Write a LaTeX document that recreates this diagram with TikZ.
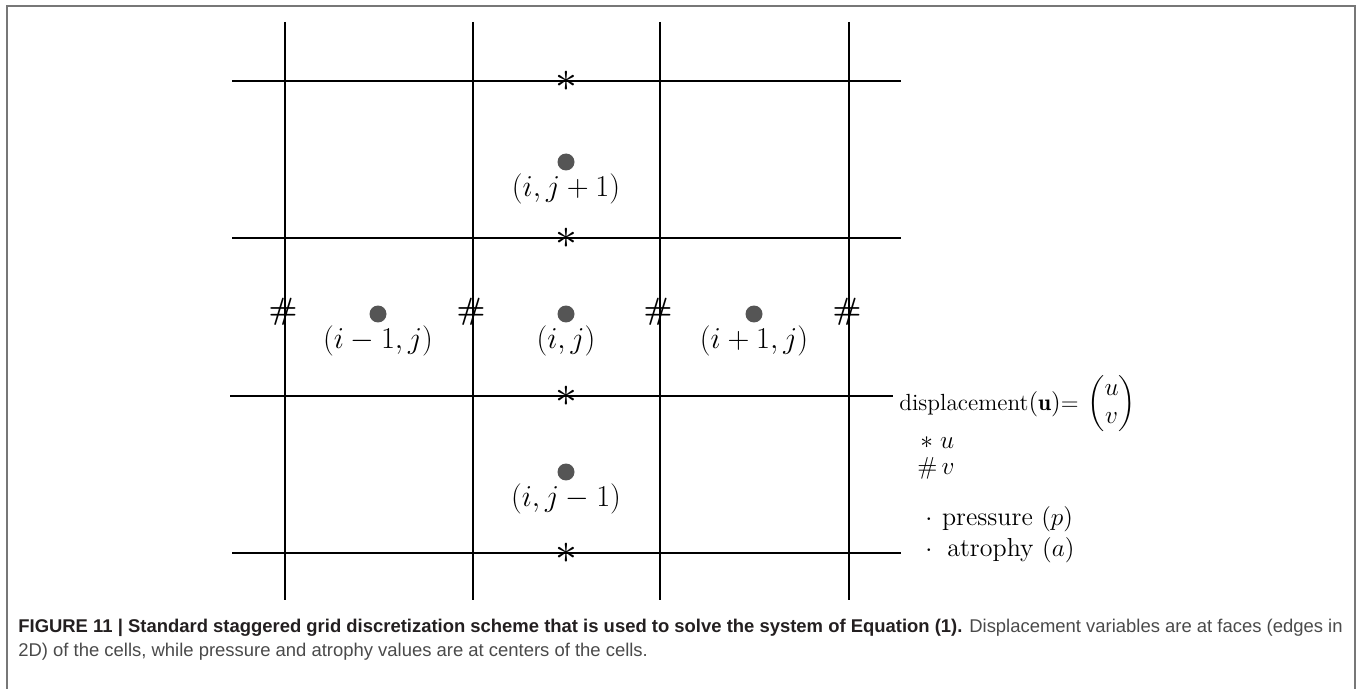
\documentclass[tikz,border=0pt]{standalone}
\usepackage{amsmath,amssymb}
\usepackage{fontspec}
\newfontfamily\capfont{Liberation Sans}
\usepackage{tikz}
\usetikzlibrary{positioning}
\definecolor{frameg}{HTML}{777777}
\definecolor{dotg}{HTML}{555555}
\definecolor{capk}{HTML}{231F20}
\definecolor{capg}{HTML}{4A4A4A}

\begin{document}
\begin{tikzpicture}[
    x=0.02cm, y=-0.02cm,
    gridline/.style={line width=1.1pt},
    cell/.style={circle, fill=dotg, inner sep=0pt, minimum size=0.34cm},
    lbl/.style={inner sep=0pt, font=\fontsize{16}{19}\selectfont},
    umark/.style={inner sep=0pt, font=\fontsize{23}{25}\selectfont},
    vmark/.style={inner sep=0pt, font=\fontsize{17.5}{20}\selectfont\bfseries},
    legend/.style={anchor=west, inner sep=0pt, font=\fontsize{14}{17}\selectfont}
]
    \useasboundingbox (0,0) rectangle (1360,689);

    % --- frame ---
    \draw[frameg, line width=1.1pt] (7,689) -- (7,6) -- (1355,6) -- (1355,689);

    % --- grid ---
    \foreach \x in {285,473,660,849}
      \draw[gridline] (\x,22) -- (\x,600);
    \foreach \y in {81,238,553}
      \draw[gridline] (232,\y) -- (901,\y);
    \draw[gridline] (230,396) -- (893,396);

    % u on horizontal faces, v on vertical faces
    \foreach \y [count=\k] in {81,238,396,553}
      \node[umark] (u\k) at (566,\y) {$\ast$};
    \foreach \x [count=\k] in {283,471,658,847}
      \node[vmark] (v\k) at (\x,312) {\#};

    % --- cell centres ---
    \node[cell] (pN) at (566,162) {};
    \node[cell] (pW) at (378,314) {};
    \node[cell] (pC) at (566,314) {};
    \node[cell] (pE) at (754,314) {};
    \node[cell] (pS) at (566,472) {};

    \node[lbl] (lN) at (566,189) {$(i,j+1)$};
    \node[lbl] (lW) at (378,341) {$(i-1,j)$};
    \node[lbl] (lC) at (566,341) {$(i,j)$};
    \node[lbl] (lE) at (754,341) {$(i+1,j)$};
    \node[lbl] (lS) at (566,499) {$(i,j-1)$};

    % --- legend ---
    \node[legend, font=\fontsize{13.3}{16}\selectfont] (disp) at (899,404)
      {displacement$(\mathbf{u})${=}\hspace{5pt}$\begin{pmatrix} u\\ v \end{pmatrix}$};
    \node[legend] (ku) at (920,443) {$\ast$\hspace{4pt}$u$};
    \node[legend] (kv) at (917,468) {$\#\,v$};
    \node[legend, font=\fontsize{14.8}{17}\selectfont] (kp) at (925,519)
      {$\cdot$\hspace{5.5pt}pressure $(p)$};
    \node[legend, font=\fontsize{14.8}{17}\selectfont] (ka) at (925,550)
      {$\cdot$\hspace{8.5pt}atrophy $(a)$};

    % --- caption ---
    \node[anchor=base west, inner sep=0pt, align=left,
          font=\capfont\fontsize{10.5}{13.6}\selectfont] (cap) at (18,656)
      {\textcolor{capk}{\bfseries FIGURE 11 | Standard staggered grid discretization scheme that is used to solve the system of Equation (1).}
       \textcolor{capg}{Displacement variables are at faces (edges in}\\
       \textcolor{capg}{2D) of the cells, while pressure and atrophy values are at centers of the cells.}};
\end{tikzpicture}
\end{document}
